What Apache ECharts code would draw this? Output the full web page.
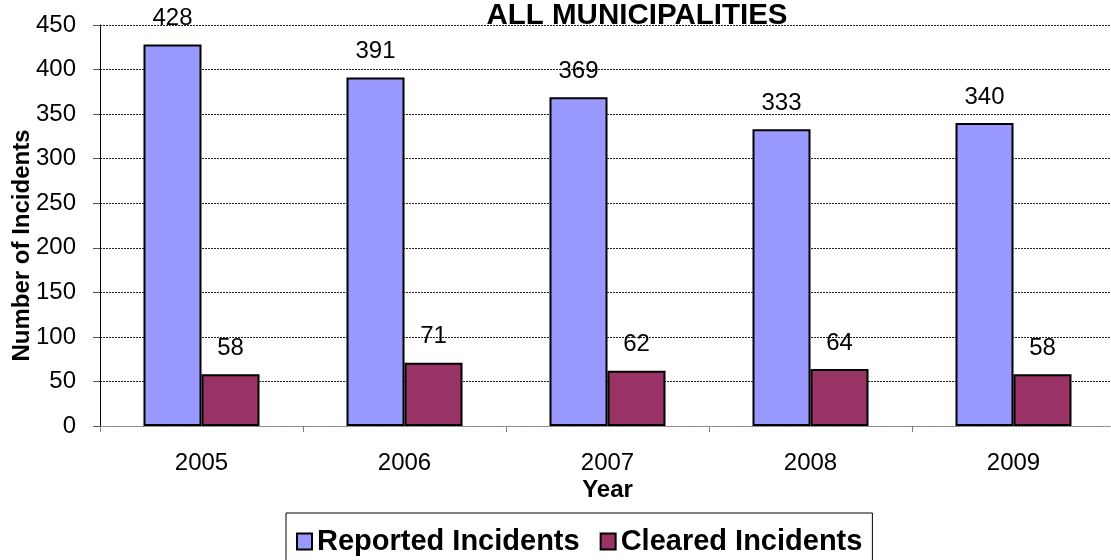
<!DOCTYPE html>
<html>
<head>
<meta charset="utf-8">
<script src="https://cdn.jsdelivr.net/npm/echarts@6/dist/echarts.min.js"></script>
<style>
html,body{margin:0;padding:0;background:#fff;}
#chart{width:1111px;height:560px;}
</style>
</head>
<body>
<div id="chart"></div>
<script>
const years = ['2005', '2006', '2007', '2008', '2009'];
const reported = [428, 391, 369, 333, 340];
const cleared = [58, 71, 62, 64, 58];
const seriesNames = ['Reported Incidents', 'Cleared Incidents'];
const titleText = 'ALL MUNICIPALITIES';

const font = 'Liberation Sans, Arial, sans-serif';
const chart = echarts.init(document.getElementById('chart'), null, {renderer: 'canvas'});
const labelStyle = {show: true, position: 'top', distance: 14, color: '#000', fontSize: 24, fontFamily: font};
chart.setOption({
  animation: false,
  backgroundColor: '#fff',
  title: {
    text: titleText, left: 632, top: -4, textAlign: 'center',
    textStyle: {fontFamily: font, fontSize: 29.5, fontWeight: 'bold', color: '#000'}
  },
  grid: {left: 100, right: -4, top: 25, bottom: 134, containLabel: false, outerBoundsMode: 'none'},
  legend: {
    data: seriesNames, left: 286, top: 513,
    padding: [14, 10, 14, 10], itemGap: 20,
    itemWidth: 15, itemHeight: 16, icon: 'rect',
    borderColor: '#000', borderWidth: 1,
    itemStyle: {borderColor: '#000', borderWidth: 2},
    textStyle: {fontFamily: font, fontSize: 29, fontWeight: 'bold', color: '#000'}
  },
  xAxis: {
    type: 'category', data: years,
    name: 'Year', nameLocation: 'middle', nameGap: 52, nameMoveOverlap: false,
    nameTextStyle: {fontFamily: font, fontSize: 24, fontWeight: 'bold', color: '#000'},
    axisLine: {show: true, lineStyle: {color: '#808080', width: 1, type: [2, 1]}},
    axisTick: {show: true, length: 6, lineStyle: {color: '#808080'}},
    axisLabel: {margin: 25, fontFamily: font, fontSize: 24, color: '#000'}
  },
  yAxis: {
    type: 'value', min: 0, max: 450, interval: 50,
    name: 'Number of Incidents', nameLocation: 'middle', nameGap: 66, nameRotate: 90, nameMoveOverlap: false,
    nameTextStyle: {fontFamily: font, fontSize: 24, fontWeight: 'bold', color: '#000', padding: [0, 40, 0, 0]},
    axisLine: {show: true, lineStyle: {color: '#000', width: 1}},
    axisTick: {show: true, length: 7, lineStyle: {color: '#555'}},
    axisLabel: {margin: 24, fontFamily: font, fontSize: 24, color: '#000'},
    splitLine: {show: true, lineStyle: {color: '#222', width: 1, type: [2, 1]}}
  },
  series: [
    {
      name: seriesNames[0], type: 'bar', data: reported, barWidth: 58, barGap: '0%',
      itemStyle: {color: '#9999FF', borderColor: '#000', borderWidth: 2},
      label: labelStyle
    },
    {
      name: seriesNames[1], type: 'bar', data: cleared, barWidth: 58,
      itemStyle: {color: '#993366', borderColor: '#000', borderWidth: 2},
      label: labelStyle
    }
  ]
});
</script>
</body>
</html>
